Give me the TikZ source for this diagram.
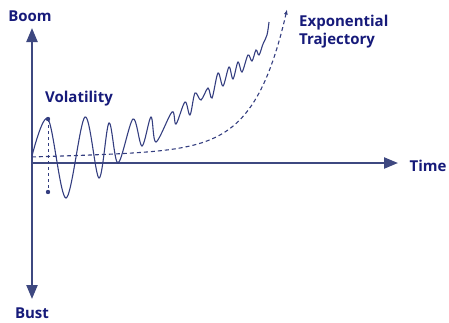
\documentclass[tikz,border=0pt]{standalone}
\usepackage{fontspec}
\setmainfont{Open Sans}
\usetikzlibrary{arrows.meta}
\definecolor{axiscol}{RGB}{62,72,128}
\definecolor{curvecol}{RGB}{52,62,128}
\definecolor{labelcol}{RGB}{22,26,122}
\tikzset{
  axis/.style={axiscol, line width=2.2pt},
  wave/.style={curvecol, line width=1.1pt},
  trend/.style={curvecol, line width=1.1pt, dash pattern=on 4pt off 3pt},
  lbl/.style={labelcol, font=\fontsize{15}{18}\selectfont\bfseries, inner sep=0pt}
}
\begin{document}
\begin{tikzpicture}[x=1pt,y=-1pt]
\useasboundingbox (0,0) rectangle (449,322);
\coordinate (O) at (32,163);
\coordinate (top) at (32,28);
\coordinate (bottom) at (32,299);
\coordinate (right) at (398,163);
\draw [axis,{Triangle[length=14pt,width=11pt]}-{Triangle[length=14pt,width=11pt]}] (bottom) -- (top);
\draw [axis,-{Triangle[length=14pt,width=11pt]}] (O) -- (right);
\node [lbl] (boom) at (30,16) {Boom};
\node [lbl] (bust) at (32,313) {Bust};
\node [lbl] (time) at (428,166) {Time};
\node [lbl] (vol) at (79,99) {Volatility};
\node [lbl,anchor=west,align=left] (expo) at (299,32) {Exponential\\Trajectory};
\draw [trend,-{Latex[length=5pt,width=4pt]}] plot [domain=32:287,samples=80] (\x,{157-0.03*(\x-32)-0.04*exp(0.032*(\x-32))});
\draw [wave] plot [smooth,tension=0.55] coordinates {
  (32,156) (48,119) (66,198) (85,117) (99,178) (109,123) (118,163)
  (133,119) (142,146) (151,117) (156,142) (172,112) (176,124)
  (185,102) (190,115) (195,93) (201,100) (208,88) (212,98)
  (218,73) (223,86) (229,67) (233,79) (238,62) (242,72)
  (248,55) (252,61) (256,50) (259,55) (263,44) (267,35) (269,22)};
\coordinate (peak) at (48,119);
\coordinate (dip) at (48,192);
\draw [curvecol,line width=1pt,dash pattern=on 3pt off 3pt] (peak) -- (dip);
\fill [curvecol] (peak) circle [radius=2.2pt] (dip) circle [radius=2.2pt];
\end{tikzpicture}
\end{document}
